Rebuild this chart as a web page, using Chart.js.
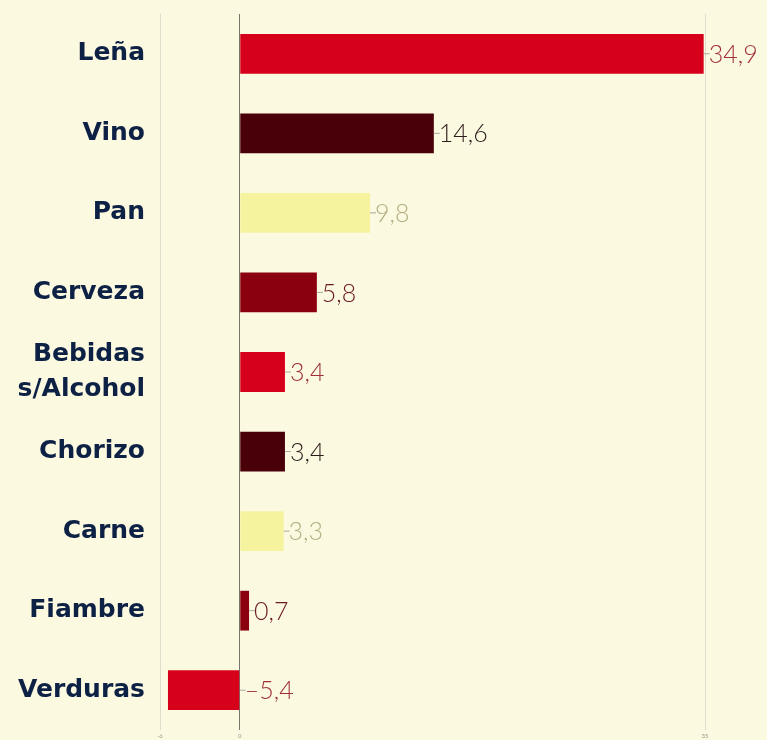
<!DOCTYPE html>
<html>
<head>
<meta charset="utf-8">
<script src="https://cdn.jsdelivr.net/npm/chart.js@4"></script>
<style>
  html, body { margin: 0; padding: 0; background: #fcf9e1; }
  #wrap { width: 767px; height: 740px; position: relative; }
</style>
</head>
<body>
<div id="wrap"><canvas id="chartGasto"></canvas></div>
<script>
"use strict";

// Datos
const categorias = [
    "Leña",
    "Vino",
    "Pan",
    "Cerveza",
    ["Bebidas", "s/Alcohol"],
    "Chorizo",
    "Carne",
    "Fiambre",
    "Verduras",
];
const variacion = [34.9, 14.6, 9.8, 5.8, 3.4, 3.4, 3.3, 0.7, -5.4];
const ticksX = [-6, 0, 35];

const barColors = ["#d7001a", "#4a0009", "#f6f39e", "#8a000f"];
const labelColors = ["#9e3036", "#2e1c1c", "#b3ae82", "#6a1a20"];

const colorBarra = variacion.map((v, i) => barColors[i % 4]);
const colorEtiqueta = variacion.map((v, i) => labelColors[i % 4]);

function formato(v) {
    const s = Math.abs(v).toFixed(1).replace(".", ",");
    return v < 0 ? "–" + s : s;
}

// etiquetas de valor con un pequeño guion
const etiquetasValor = {
    id: "etiquetasValor",
    afterDatasetsDraw(chart) {
        const ctx = chart.ctx;
        const meta = chart.getDatasetMeta(0);
        const x = chart.scales.x;
        ctx.save();
        ctx.font = "300 25px Lato, 'Open Sans', sans-serif";
        ctx.textBaseline = "middle";
        meta.data.forEach((bar, i) => {
            const v = variacion[i];
            const x0 = x.getPixelForValue(Math.max(v, 0));
            ctx.strokeStyle = "#a9a9a0";
            ctx.lineWidth = 1;
            ctx.beginPath();
            ctx.moveTo(x0, bar.y);
            ctx.lineTo(x0 + 6, bar.y);
            ctx.stroke();
            ctx.fillStyle = colorEtiqueta[i];
            ctx.fillText(formato(v), x0 + 5, bar.y + 1);
        });
        ctx.restore();
    },
};

const ctx = document.getElementById("chartGasto").getContext("2d");
const chartGasto = new Chart(ctx, {
    type: "bar",
    data: {
        labels: categorias,
        datasets: [
            {
                data: variacion,
                backgroundColor: colorBarra,
                borderWidth: 0,
                barPercentage: 0.5,
                categoryPercentage: 1,
            },
        ],
    },
    options: {
        indexAxis: "y",
        responsive: true,
        maintainAspectRatio: false,
        animation: false,
        layout: { padding: { left: 0, right: 62, top: 14, bottom: 0 } },
        scales: {
            x: {
                min: -6,
                max: 35,
                afterBuildTicks: (scale) => {
                    scale.ticks = ticksX.map((v) => ({ value: v }));
                },
                afterFit: (scale) => {
                    scale.height = 10;
                    scale.paddingLeft = 0;
                    scale.paddingRight = 0;
                },
                border: { display: false },
                grid: {
                    drawTicks: false,
                    color: (c) => (c.tick && c.tick.value === 0 ? "#777770" : "#dedccb"),
                    lineWidth: 1,
                },
                ticks: {
                    padding: 2,
                    color: "#999990",
                    font: { size: 6, family: "Lato" },
                },
            },
            y: {
                afterFit: (scale) => {
                    scale.width = 160;
                    scale.paddingTop = 0;
                    scale.paddingBottom = 0;
                },
                border: { display: false },
                grid: { display: false, drawTicks: false },
                ticks: {
                    padding: 15,
                    color: "#0d2145",
                    font: { size: 25, weight: "bold", family: "'DejaVu Sans', sans-serif", lineHeight: 1.4 },
                },
            },
        },
        plugins: {
            legend: { display: false },
            tooltip: { enabled: false },
        },
    },
    plugins: [etiquetasValor],
});
</script>
</body>
</html>
